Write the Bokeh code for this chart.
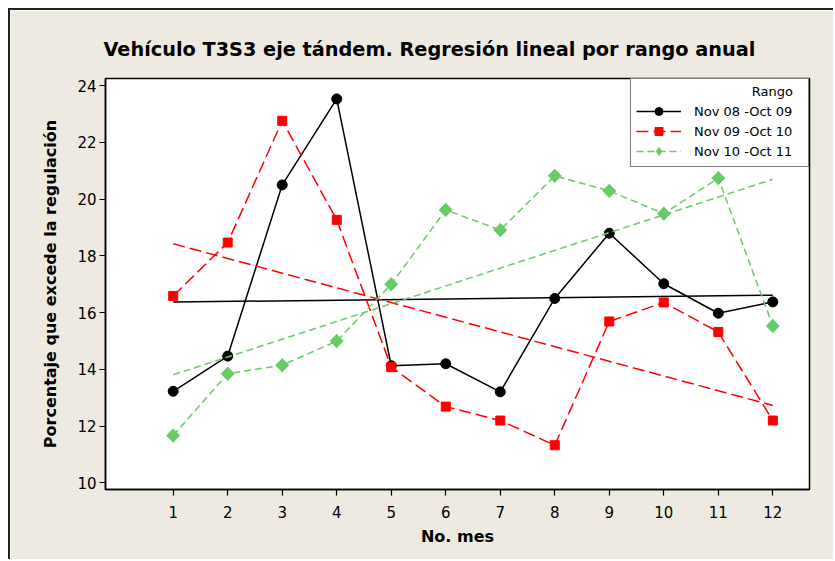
import numpy as np
from bokeh.plotting import figure
from bokeh.models import FixedTicker, Range1d, Legend, LegendItem, ColumnDataSource
from bokeh.embed import file_html
from bokeh.resources import INLINE

# ---- data ----
months = list(range(1, 13))
y_ticks = [10, 12, 14, 16, 18, 20, 22, 24]
series_names = ["Nov 08 -Oct 09", "Nov 09 -Oct 10", "Nov 10 -Oct 11"]
pct_0809 = [13.23, 14.47, 20.5, 23.53, 14.13, 14.2, 13.21, 16.5, 18.8, 17.02, 15.98, 16.38]
pct_0910 = [16.59, 18.47, 22.76, 19.27, 14.08, 12.69, 12.2, 11.33, 15.69, 16.36, 15.32, 12.2]
pct_1011 = [11.67, 13.85, 14.15, 15.0, 17.0, 19.62, 18.91, 20.82, 20.29, 19.49, 20.74, 15.53]

title_text = "Vehículo T3S3 eje tándem. Regresión lineal por rango anual"
x_label = "No. mes"
y_label = "Porcentaje que excede la regulación"
legend_title = "Rango"

FONT = "DejaVu Sans"
BG = "#EEEAE1"

p = figure(width=825, height=551,
           x_range=Range1d(-0.242, 12.673), y_range=Range1d(9.77, 24.25),
           output_backend="svg", toolbar_location=None,
           min_border_left=95, min_border_top=68, min_border_right=26, min_border_bottom=72,
           background_fill_color="white", border_fill_color=BG,
           outline_line_color="black", outline_line_width=1.5,
           styles={"margin-left": "8px", "margin-top": "8px",
                   "border-left": "2px solid #222", "border-top": "2px solid #222"})

p.title.text = title_text
p.title.align = "left"
p.title.offset = -2
p.title.text_font = FONT
p.title.text_font_size = "19.3px"
p.title.text_font_style = "bold"
p.title.text_color = "black"
p.title.standoff = 36

p.grid.visible = False
for ax in (p.xaxis[0], p.yaxis[0]):
    ax.axis_line_color = "black"
    ax.axis_line_width = 1.5
    ax.major_tick_out = 6
    ax.major_tick_in = 0
    ax.minor_tick_out = 0
    ax.minor_tick_in = 0
    ax.major_tick_line_color = "black"
    ax.major_tick_line_width = 1.2
    ax.major_label_text_font = FONT
    ax.major_label_text_font_size = "15px"
    ax.major_label_text_color = "black"
    ax.axis_label_text_font = FONT
    ax.axis_label_text_font_size = "16px"
    ax.axis_label_text_font_style = "bold"
    ax.axis_label_text_color = "black"

p.xaxis.ticker = FixedTicker(ticks=months)
p.yaxis.ticker = FixedTicker(ticks=y_ticks)
p.xaxis.axis_label = x_label
p.yaxis.axis_label = y_label
p.xaxis.major_label_standoff = 10
p.xaxis.axis_label_standoff = 6
p.yaxis.major_label_standoff = 3
p.yaxis.axis_label_standoff = 14

styles = [
    dict(color="black", dash="solid", marker="circle", size=10, angle=0.0),
    dict(color="#FF0000", dash="12 5", marker="square", size=9, angle=0.0),
    dict(color="#66CC66", dash="7 4", marker="square", size=9.2, angle=np.pi / 4),
]
series = [pct_0809, pct_0910, pct_1011]
items = []
xs = np.array(months, dtype=float)
for name, vals, st in zip(series_names, series, styles):
    src = ColumnDataSource(dict(x=months, y=vals))
    ln = p.line("x", "y", source=src, line_color=st["color"], line_width=1.5, line_dash=st["dash"])
    slope, icpt = np.polyfit(xs, np.array(vals), 1)
    fit_src = ColumnDataSource(dict(x=[months[0], months[-1]],
                                    y=[slope * months[0] + icpt, slope * months[-1] + icpt]))
    p.line("x", "y", source=fit_src, line_color=st["color"], line_width=1.5, line_dash=st["dash"])
    if st["angle"] != 0.0:
        # plain diamond underneath (used for the legend), rotated square on top
        leg_sc = p.scatter("x", "y", source=src, marker="diamond", size=13,
                           fill_color=st["color"], line_color=st["color"])
        p.scatter("x", "y", source=src, marker=st["marker"], size=st["size"], angle=st["angle"],
                  fill_color=st["color"], line_color=st["color"])
        items.append(LegendItem(label=name, renderers=[ln, leg_sc]))
    else:
        sc = p.scatter("x", "y", source=src, marker=st["marker"], size=st["size"],
                       fill_color=st["color"], line_color=st["color"])
        items.append(LegendItem(label=name, renderers=[ln, sc]))

# legend title is right-aligned in the original: pad it with non-breaking spaces
legend = Legend(items=items, location="top_right", margin=0, padding=5, spacing=0,
                glyph_width=45, glyph_height=20, label_height=20, label_standoff=13,
                label_width=109,
                label_text_font=FONT, label_text_font_size="13px", label_text_color="black",
                border_line_color="black", border_line_width=1.5, background_fill_color="white",
                background_fill_alpha=1.0,
                title="\u00a0" * 28 + legend_title, title_text_font=FONT,
                title_text_font_size="13px", title_text_font_style="normal",
                title_text_color="black", title_standoff=2)
p.add_layout(legend)

open("out.html", "w").write(file_html(p, INLINE))
